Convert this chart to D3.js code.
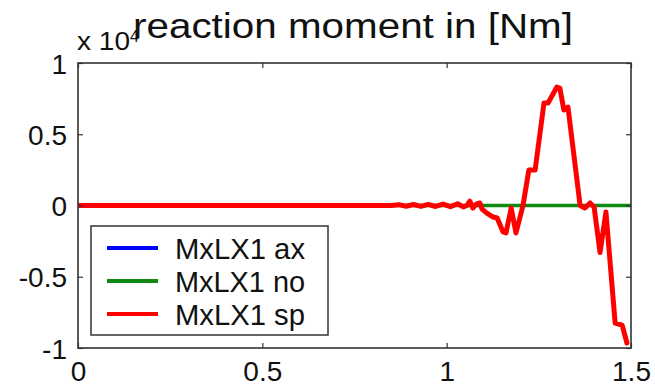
<!DOCTYPE html>
<html><head><meta charset="utf-8">
<script src="https://cdn.jsdelivr.net/npm/d3@7"></script>
<style>body{margin:0;background:#fff}svg{display:block}text{font-family:"Liberation Sans",Arial,sans-serif}</style>
</head><body>
<svg id="c" width="655" height="391"></svg>
<script>
// ---- data (values x 10^4 Nm) ----
const title = "reaction moment in [Nm]";
const seriesNames = ["MxLX1 ax", "MxLX1 no", "MxLX1 sp"];
const seriesColors = ["#0000ff", "#108a10", "#ff0000"];
const xTicks = [0, 0.5, 1, 1.5];
const yTicks = [-1, -0.5, 0, 0.5, 1];
const timeAx = [0, 1.5];
const momentAx = [0, 0];
const timeNo = [0, 1.5];
const momentNo = [0, 0];
const timeSp = [0, 0.85, 0.87, 0.89, 0.91, 0.93, 0.95, 0.97, 0.99, 1.01, 1.03, 1.045, 1.055, 1.063, 1.071, 1.080, 1.090, 1.096, 1.109, 1.126, 1.137, 1.153, 1.161, 1.175, 1.188, 1.207, 1.223, 1.240, 1.264, 1.275, 1.299, 1.307, 1.318, 1.329, 1.362, 1.375, 1.389, 1.400, 1.416, 1.432, 1.457, 1.476, 1.489];
const momentSp = [0, 0, 0.006, -0.005, 0.007, -0.006, 0.008, -0.007, 0.010, -0.008, 0.012, -0.010, 0.0, 0.030, -0.018, 0.010, 0.018, -0.025, -0.053, -0.081, -0.088, -0.186, -0.193, -0.018, -0.193, 0.0, 0.249, 0.249, 0.719, 0.719, 0.831, 0.824, 0.670, 0.691, 0.0, -0.018, 0.018, -0.011, -0.330, -0.046, -0.825, -0.839, -0.965];

const svg = d3.select("#c");
const L = 78, R = 631, T = 63, B = 348;
const x = d3.scaleLinear().domain([0, 1.5]).range([L, R]);
const y = d3.scaleLinear().domain([-1, 1]).range([B, T]);
const fmt = d => String(d);

svg.append("defs").append("clipPath").attr("id", "clip")
  .append("rect").attr("x", L).attr("y", T).attr("width", R - L).attr("height", B - T);

const series = [
  {t: timeAx, v: momentAx, c: seriesColors[0], w: 3},
  {t: timeNo, v: momentNo, c: seriesColors[1], w: 3.5},
  {t: timeSp, v: momentSp, c: seriesColors[2], w: 5}
];
const line = d3.line().x(d => x(d[0])).y(d => y(d[1]));
const g = svg.append("g").attr("clip-path", "url(#clip)");
series.forEach(s => {
  g.append("path").datum(d3.zip(s.t, s.v)).attr("d", line)
    .attr("fill", "none").attr("stroke", s.c).attr("stroke-width", s.w)
    .attr("stroke-linejoin", "round").attr("stroke-linecap", "round");
});

const fr = "#333";
const axB = svg.append("g").attr("transform", `translate(0,${B})`)
  .call(d3.axisBottom(x).tickValues(xTicks).tickSizeInner(-5).tickSizeOuter(0).tickPadding(13).tickFormat(fmt));
const axT = svg.append("g").attr("transform", `translate(0,${T})`)
  .call(d3.axisTop(x).tickValues(xTicks).tickSizeInner(-5).tickSizeOuter(0).tickFormat(""));
const axL = svg.append("g").attr("transform", `translate(${L},0)`)
  .call(d3.axisLeft(y).tickValues(yTicks).tickSizeInner(-5).tickSizeOuter(0).tickPadding(11).tickFormat(fmt));
const axR = svg.append("g").attr("transform", `translate(${R},0)`)
  .call(d3.axisRight(y).tickValues(yTicks).tickSizeInner(-5).tickSizeOuter(0).tickFormat(""));
[axB, axT, axL, axR].forEach(a => {
  a.select(".domain").remove();
  a.selectAll("line").attr("stroke", fr).attr("stroke-width", 1.2);
  a.selectAll("text").attr("fill", "#111").style("font-size", "28px")
    .style("font-family", '"Liberation Sans", Arial, sans-serif');
});
axB.selectAll("text").attr("dy", "0.71em");
axL.selectAll("text").attr("dy", "0.36em");
svg.append("rect").attr("x", L).attr("y", T).attr("width", R - L).attr("height", B - T)
  .attr("fill", "none").attr("stroke", fr).attr("stroke-width", 1.6);

// legend
const lg = svg.append("g");
lg.append("rect").attr("x", 91).attr("y", 226).attr("width", 237).attr("height", 109)
  .attr("fill", "#fff").attr("stroke", fr).attr("stroke-width", 1.5);
seriesNames.forEach((n, i) => {
  const yy = 248 + i * 33;
  lg.append("line").attr("x1", 107).attr("x2", 158).attr("y1", yy).attr("y2", yy)
    .attr("stroke", seriesColors[i]).attr("stroke-width", 4);
  lg.append("text").attr("x", 175).attr("y", yy + 11).text(n)
    .style("font-size", "30px").attr("fill", "#111")
    .attr("textLength", 130).attr("lengthAdjust", "spacingAndGlyphs");
});

// exponent label
svg.append("text").attr("x", 77).attr("y", 50).style("font-size", "25px").attr("fill", "#111")
  .attr("textLength", 53).attr("lengthAdjust", "spacingAndGlyphs").text("x 10");
svg.append("text").attr("x", 130).attr("y", 42).style("font-size", "16px").attr("fill", "#111").text("4");

// title
svg.append("text").attr("x", 133).attr("y", 38).text(title)
  .style("font-size", "35px").attr("fill", "#111")
  .attr("textLength", 440).attr("lengthAdjust", "spacingAndGlyphs");
</script>
</body></html>
